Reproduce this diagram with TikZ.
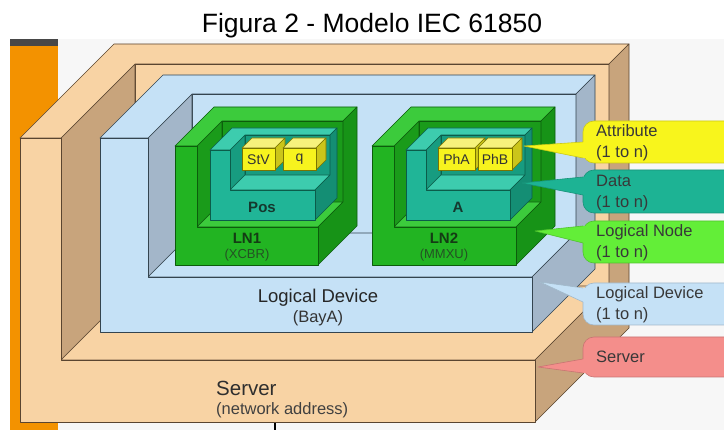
\documentclass[tikz,border=0pt]{standalone}
\usepackage{fontspec}
\setmainfont{Liberation Sans}
\definecolor{tanA}{HTML}{F8D3A4}
\definecolor{tanB}{HTML}{C8A47C}
\definecolor{tanL}{HTML}{5A4530}
\definecolor{ldA}{HTML}{C5E1F6}
\definecolor{ldB}{HTML}{A3B6C9}
\definecolor{ldL}{HTML}{34444F}
\definecolor{gnF}{HTML}{22B422}
\definecolor{gnT}{HTML}{3CCB3C}
\definecolor{gnD}{HTML}{1A9B1A}
\definecolor{gnS}{HTML}{179317}
\definecolor{gnL}{HTML}{0C5C0C}
\definecolor{tlF}{HTML}{20B597}
\definecolor{tlT}{HTML}{3DCCAE}
\definecolor{tlD}{HTML}{179C80}
\definecolor{tlS}{HTML}{148E74}
\definecolor{tlL}{HTML}{0B5C4A}
\definecolor{ywF}{HTML}{F7F31E}
\definecolor{ywT}{HTML}{F6F27C}
\definecolor{ywS}{HTML}{CBC51A}
\definecolor{ywL}{HTML}{7A7400}
\definecolor{cAtt}{HTML}{F8F51C}
\definecolor{cDat}{HTML}{1DB394}
\definecolor{cLN}{HTML}{63EE38}
\definecolor{cLD}{HTML}{C5E1F6}
\definecolor{cSrv}{HTML}{F48E8B}
\definecolor{orng}{HTML}{F39200}
\definecolor{bgG}{HTML}{F7F7F7}
\definecolor{lnTxt}{HTML}{143C14}
\definecolor{lnSub}{HTML}{245224}
\definecolor{posTxt}{HTML}{15382E}
\tikzset{
  edge/.style={line width=0.6pt},
  srv front/.style={edge,fill=tanA,draw=tanL},
  srv top/.style={edge,fill=tanA,draw=tanL},
  srv floor/.style={edge,fill=tanA,draw=tanL},
  srv back/.style={edge,fill=tanA,draw=tanL},
  srv inner/.style={edge,fill=tanB,draw=tanL},
  srv side/.style={edge,fill=tanB,draw=tanL},
  ld front/.style={edge,fill=ldA,draw=ldL},
  ld top/.style={edge,fill=ldA,draw=ldL},
  ld floor/.style={edge,fill=ldA,draw=ldL},
  ld back/.style={edge,fill=ldA,draw=ldL},
  ld inner/.style={edge,fill=ldB,draw=ldL},
  ld side/.style={edge,fill=ldB,draw=ldL},
  gn front/.style={edge,fill=gnF,draw=gnL},
  gn top/.style={edge,fill=gnT,draw=gnL},
  gn floor/.style={edge,fill=gnT,draw=gnL},
  gn back/.style={edge,fill=gnD,draw=gnL},
  gn inner/.style={edge,fill=gnD,draw=gnL},
  gn side/.style={edge,fill=gnS,draw=gnL},
  tl front/.style={edge,fill=tlF,draw=tlL},
  tl top/.style={edge,fill=tlT,draw=tlL},
  tl floor/.style={edge,fill=tlT,draw=tlL},
  tl back/.style={edge,fill=tlD,draw=tlL},
  tl inner/.style={edge,fill=tlD,draw=tlL},
  tl side/.style={edge,fill=tlS,draw=tlL},
  cotext/.style={anchor=west,align=left,inner sep=0pt,font=\fontsize{16.5}{21}\selectfont,text=black!78},
  cubetext/.style={inner sep=0pt,font=\fontsize{14}{15}\selectfont,text=black!80},
}
% #1 L, #2 T, #3 R, #4 B, #5 w, #6 Bt, #7 inner depth, #8 outer depth, #9 style prefix
\newcommand\traybox[9]{%
  \path[#9 back] ({#1+#5+#7},{#2-#7}) rectangle ({#3+#7},{#6-#7});
  \path[#9 inner] ({#1+#5},#2) -- ({#1+#5+#7},{#2-#7}) -- ({#1+#5+#7},{#6-#7}) -- ({#1+#5},#6) -- cycle;
  \path[#9 floor] ({#1+#5},#6) -- ({#1+#5+#7},{#6-#7}) -- ({#3+#7},{#6-#7}) -- (#3,#6) -- cycle;
  \path[#9 top] (#1,#2) -- ({#1+#8},{#2-#8}) -- ({#3+#8},{#2-#8}) -- ({#3+#7},{#2-#7}) -- ({#1+#5+#7},{#2-#7}) -- ({#1+#5},#2) -- cycle;
  \path[#9 side] (#3,#6) -- ({#3+#7},{#6-#7}) -- ({#3+#7},{#2-#7}) -- ({#3+#8},{#2-#8}) -- ({#3+#8},{#4-#8}) -- (#3,#4) -- cycle;
  \path[#9 front] (#1,#2) -- ({#1+#5},#2) -- ({#1+#5},#6) -- (#3,#6) -- (#3,#4) -- (#1,#4) -- cycle;
}
% cube: #1 name, #2 x1, #3 x2, #4 label
\newcommand\attcube[4]{%
  \path[edge,fill=ywT,draw=ywL] (#2,148) -- ({#2+10},138) -- ({#3+10},138) -- (#3,148) -- cycle;
  \path[edge,fill=ywS,draw=ywL] (#3,148) -- ({#3+10},138) -- ({#3+10},160) -- (#3,170) -- cycle;
  \path[edge,fill=ywF,draw=ywL] (#2,148) rectangle (#3,170);
  \node[cubetext] (#1) at ({(#2+#3)/2},159.5) {#4};
}
% callout: #1 name, #2 top, #3 bottom, #4 ya, #5 yb, #6 tipx, #7 tipy, #8 colour
\newcommand\callout[8]{%
  \coordinate (#1tip) at (#6,#7);
  \coordinate (#1a) at (583,#4);
  \coordinate (#1b) at (583,#5);
  \path[fill=#8,draw=#8!82!black,line width=0.6pt,rounded corners=11pt] (583,#2) rectangle (745,#3);
  \fill[#8] (586,#4) -- (#1a) -- (#1tip) -- (#1b) -- (586,#5) -- cycle;
  \draw[#8!82!black,line width=0.6pt] (#1a) -- (#1tip) -- (#1b);
}
\begin{document}
\begin{tikzpicture}[x=1pt,y=-1pt,line join=round]
\useasboundingbox (0,0) rectangle (724,430);
\clip (0,0) rectangle (724,430);
\fill[white] (0,0) rectangle (724,430);
\fill[bgG] (10,39) rectangle (724,430);
\fill[orng] (10,46) rectangle (58,430);
\fill[black!72] (10,39) rectangle (58,46);

\node[anchor=base,inner sep=0pt,font=\fontsize{26.5}{30}\selectfont] (title) at (372,33) {Figura 2 - Modelo IEC 61850};

% Server
\traybox{20}{138}{535}{422}{41}{360}{74}{94}{srv}
% Logical device
\traybox{100}{138}{532}{332}{48}{277}{44}{63}{ld}
% Logical nodes
\traybox{175}{146}{318}{265}{22}{227}{25}{39}{gn}
\traybox{372}{146}{516}{265}{22}{227}{25}{39}{gn}
% Data
\traybox{210}{150}{315}{220}{20}{190}{15}{22}{tl}
\traybox{406}{150}{510}{220}{20}{190}{15}{22}{tl}
% Attributes
\attcube{stv}{242}{275}{StV}
\attcube{q}{283}{316}{q}
\attcube{pha}{438}{475}{PhA}
\attcube{phb}{478}{512}{PhB}

% labels on objects
\node[inner sep=0pt,font=\bfseries\fontsize{15}{16}\selectfont,text=posTxt] (pos) at (262,207) {Pos};
\node[inner sep=0pt,font=\bfseries\fontsize{15}{16}\selectfont,text=posTxt] (alab) at (458,207) {A};
\node[inner sep=0pt,font=\bfseries\fontsize{15}{16}\selectfont,text=lnTxt] (ln1) at (247,238) {LN1};
\node[inner sep=0pt,font=\fontsize{13}{14}\selectfont,text=lnSub] (ln1s) at (247,255) {(XCBR)};
\node[inner sep=0pt,font=\bfseries\fontsize{15}{16}\selectfont,text=lnTxt] (ln2) at (444,238) {LN2};
\node[inner sep=0pt,font=\fontsize{13}{14}\selectfont,text=lnSub] (ln2s) at (444,255) {(MMXU)};
\node[inner sep=0pt,font=\fontsize{18.5}{20}\selectfont,text=black!85] (ldlbl) at (318,298) {Logical Device};
\node[inner sep=0pt,font=\fontsize{16.5}{18}\selectfont,text=black!80] (ldsub) at (318,318) {(BayA)};
\node[anchor=west,inner sep=0pt,font=\fontsize{20.5}{22}\selectfont,text=black!82] (srvlbl) at (216,388) {Server};
\node[anchor=west,inner sep=0pt,font=\fontsize{16.5}{18}\selectfont,text=black!75] (srvsub) at (216,410) {(network address)};
\coordinate (tickA) at (275,423);
\coordinate (tickB) at (275,431);
\draw[line width=1.6pt] (tickA) -- (tickB);

% callouts
\callout{att}{121}{163}{142}{158}{524}{146}{cAtt}
\node[cotext] (attT) at (596,142.5) {Attribute\\(1 to n)};
\callout{dat}{170}{213}{177}{195}{522}{183}{cDat}
\node[cotext] (datT) at (596,193) {Data\\(1 to n)};
\callout{lnc}{221}{263}{226}{243}{535}{231}{cLN}
\node[cotext] (lnT) at (596,243) {Logical Node\\(1 to n)};
\callout{ldc}{283}{325}{288}{302}{540}{282}{cLD}
\node[cotext] (ldT) at (596,305) {Logical Device\\(1 to n)};
\callout{srvc}{337}{377}{359}{373}{538}{367}{cSrv}
\node[cotext] (srvT) at (596,357) {Server};
\end{tikzpicture}
\end{document}
